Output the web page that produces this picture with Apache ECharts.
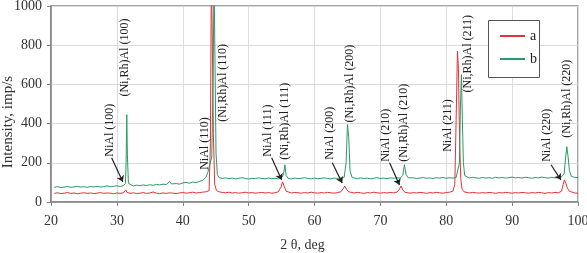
<!DOCTYPE html>
<html>
<head>
<meta charset="utf-8">
<script src="https://cdn.jsdelivr.net/npm/echarts@6/dist/echarts.min.js"></script>
<style>
  html, body { margin: 0; padding: 0; background: #fff; }
  #chart { width: 587px; height: 253px; }
</style>
</head>
<body>
<div id="chart"></div>
<script>
// pattern a (red) : [2 theta, intensity]
const seriesA = [
  [20.5,44],[21,47],[21.5,43],[22,45],[22.5,48],[23,44],[23.5,46],[24,42],[24.5,45],[25,47],
  [25.5,44],[26,46],[26.5,43],[27,45],[27.5,48],[28,44],[28.5,46],[29,45],[29.5,42],[30,46],
  [30.5,44],[31,47],[31.2,52],[31.35,62],[31.5,50],[31.7,46],[32,44],[32.5,47],[33,43],[33.5,45],
  [34,48],[34.5,44],[35,46],[35.5,51],[36,45],[36.5,43],[37,46],[37.5,44],[38,47],[38.5,45],
  [39,43],[39.5,46],[40,49],[40.5,45],[41,47],[41.5,50],[42,46],[42.5,48],[43,50],[43.5,52],
  [44,58],[44.2,300],[44.35,1200],[44.5,1200],[44.65,350],[44.85,90],[45.1,60],[45.5,52],[46,49],[46.5,47],
  [47,50],[47.5,46],[48,48],[48.5,45],[49,47],[49.5,50],[50,46],[50.5,48],[51,45],[51.5,47],
  [52,49],[52.5,46],[53,48],[53.5,45],[54,47],[54.5,52],[54.9,75],[55.15,103],[55.4,80],[55.7,55],
  [56,48],[56.5,46],[57,49],[57.5,47],[58,45],[58.5,48],[59,46],[59.5,50],[60,47],[60.5,45],
  [61,48],[61.5,46],[62,49],[62.5,47],[63,45],[63.5,48],[64,52],[64.4,70],[64.6,82],[64.85,65],
  [65.2,52],[65.5,48],[66,46],[66.5,49],[67,47],[67.5,44],[68,48],[68.5,46],[69,50],[69.5,47],
  [70,45],[70.5,48],[71,46],[71.5,49],[72,47],[72.5,50],[72.9,65],[73.15,82],[73.4,62],[73.7,50],
  [74,47],[74.5,45],[75,48],[75.5,46],[76,49],[76.5,47],[77,44],[77.5,48],[78,46],[78.5,49],
  [79,47],[79.5,45],[80,48],[80.5,50],[81,55],[81.3,90],[81.5,420],[81.7,770],[81.85,680],[82,350],
  [82.2,120],[82.4,65],[82.7,52],[83,48],[83.5,46],[84,49],[84.5,47],[85,45],[85.5,48],[86,46],
  [86.5,49],[87,47],[87.5,44],[88,48],[88.5,46],[89,49],[89.5,47],[90,45],[90.5,48],[91,46],
  [91.5,49],[92,47],[92.5,45],[93,48],[93.5,46],[94,49],[94.5,47],[95,44],[95.5,48],[96,46],
  [96.5,49],[97,47],[97.5,55],[97.75,90],[97.95,113],[98.15,95],[98.4,70],[98.7,55],[99,50],[99.5,46],
  [100,45]
]

// pattern b (green)
const seriesB = [
  [20.5,75],[21,78],[21.5,74],[22,76],[22.5,79],[23,75],[23.5,77],[24,80],[24.5,76],[25,78],
  [25.5,75],[26,79],[26.5,77],[27,80],[27.5,76],[28,79],[28.5,82],[29,78],[29.5,80],[30,83],
  [30.5,79],[31,84],[31.3,95],[31.4,200],[31.5,446],[31.6,240],[31.75,95],[32,85],[32.5,82],[33,86],
  [33.5,83],[34,87],[34.5,84],[35,88],[35.5,85],[36,90],[36.5,87],[37,91],[37.5,89],[38,104],
  [38.3,92],[38.5,90],[39,94],[39.5,91],[40,97],[40.5,100],[41,96],[41.5,102],[42,99],[42.5,105],
  [43,110],[43.5,125],[43.8,150],[44.1,140],[44.4,230],[44.6,600],[44.75,1150],[44.9,700],[45.05,250],[45.25,140],
  [45.5,125],[46,120],[46.5,123],[47,119],[47.5,122],[48,118],[48.5,121],[49,124],[49.5,120],[50,117],
  [50.5,121],[51,119],[51.5,123],[52,120],[52.5,118],[53,122],[53.5,119],[54,121],[54.5,118],[55,123],
  [55.3,140],[55.5,190],[55.7,135],[56,120],[56.5,118],[57,122],[57.5,119],[58,121],[58.5,124],[59,120],
  [59.5,118],[60,122],[60.5,119],[61,121],[61.5,123],[62,120],[62.5,118],[63,122],[63.5,120],[64,123],
  [64.5,125],[64.8,200],[65,395],[65.2,330],[65.4,160],[65.7,125],[66,121],[66.5,119],[67,123],[67.5,120],
  [68,122],[68.5,118],[69,121],[69.5,124],[70,120],[70.5,122],[71,119],[71.5,123],[72,121],[72.5,124],
  [73,122],[73.4,135],[73.65,190],[73.9,140],[74.2,124],[74.5,121],[75,123],[75.5,120],[76,122],[76.5,125],
  [77,121],[77.5,123],[78,120],[78.5,124],[79,122],[79.5,125],[80,121],[80.5,124],[81,122],[81.5,125],
  [81.8,135],[82,200],[82.15,480],[82.3,650],[82.45,420],[82.6,200],[82.8,135],[83.1,125],[83.5,122],[84,126],
  [84.5,123],[85,121],[85.5,125],[86,122],[86.5,124],[87,121],[87.5,126],[88,123],[88.5,125],[89,122],
  [89.5,124],[90,127],[90.5,123],[91,125],[91.5,122],[92,126],[92.5,124],[93,121],[93.5,125],[94,123],
  [94.5,127],[95,124],[95.5,122],[96,126],[96.5,123],[97,125],[97.5,128],[97.9,145],[98.1,220],[98.3,282],
  [98.5,230],[98.7,160],[99,130],[99.5,126],[100,125]
]

// peak labels: text, 2 theta, intensity where the text starts
const peakLabels = [
  ['NiAl (100)', 28.9, 231],
  ['(Ni,Rh)Al (100)', 31.2, 538],
  ['NiAl (110)', 43.3, 164],
  ['(Ni,Rh)Al (110)', 46.1, 410],
  ['NiAl (111)', 52.9, 231],
  ['(Ni,Rh)Al (111)', 55.5, 215],
  ['NiAl (200)', 62.3, 215],
  ['(Ni,Rh)Al (200)', 65.3, 405],
  ['NiAl (210)', 70.9, 205],
  ['(Ni,Rh)Al (210)', 73.6, 205],
  ['NiAl (211)', 80.2, 256],
  ['(Ni,Rh)Al (211)', 83.3, 559],
  ['NiAl (220)', 95.3, 205],
  ['(Ni,Rh)Al (220)', 98.3, 328]
]

// arrows from NiAl labels to the peaks: [x1, y1, x2, y2]
const arrows = [
  [29.2, 226, 30.9, 103],
  [53.5, 226, 55.0, 113],
  [62.7, 200, 64.2, 97],
  [71.4, 200, 72.9, 87],
  [95.9, 190, 97.4, 113]
]

const xTicks = { min: 20, max: 100, interval: 10 }
const yTicks = { min: 0, max: 1000, interval: 200 }

const serif = '"Liberation Serif", "DejaVu Serif", serif'
const red = '#e2323a', green = '#2a9a66'

var chart = echarts.init(document.getElementById('chart'))
var options = {
  animation: false,
  textStyle: { fontFamily: serif },
  grid: { left: 51, right: 9, top: 6, bottom: 51, show: true, borderColor: '#858585', borderWidth: 1.5, containLabel: false, outerBoundsMode: 'none' },
  legend: {
    orient: 'vertical', left: 500, top: 29, z: 10,
    padding: 0, itemGap: 9,
    itemWidth: 25, itemHeight: 2, icon: 'rect',
    textStyle: { fontFamily: serif, fontSize: 14, color: '#222' },
    data: ['a', 'b']
  },
  xAxis: {
    type: 'value', min: xTicks.min, max: xTicks.max, interval: xTicks.interval,
    name: '2 θ, deg', nameLocation: 'middle', nameGap: 36, nameMoveOverlap: false,
    nameTextStyle: { fontFamily: serif, fontSize: 14, color: '#333', padding: [0, 24, 0, 0] },
    axisLine: { show: true, lineStyle: { color: '#858585', width: 1.5 } },
    axisTick: { show: true, length: 4, lineStyle: { color: '#858585' } },
    axisLabel: { fontFamily: serif, fontSize: 14, color: '#333', margin: 12 },
    splitLine: { show: true, lineStyle: { color: '#dcdcdc' } }
  },
  yAxis: {
    type: 'value', min: yTicks.min, max: yTicks.max, interval: yTicks.interval,
    name: 'Intensity, imp/s', nameLocation: 'middle', nameGap: 35, nameMoveOverlap: false,
    nameTextStyle: { fontFamily: serif, fontSize: 15, color: '#333', padding: [0, 36, 0, 0] },
    axisLine: { show: true, lineStyle: { color: '#858585', width: 1.5 } },
    axisTick: { show: true, length: 4, lineStyle: { color: '#858585' } },
    axisLabel: { fontFamily: serif, fontSize: 14, color: '#333', margin: 9, formatter: v => String(v) },
    splitLine: { show: true, lineStyle: { color: '#dcdcdc' } }
  },
  series: [
    {
      name: 'a', type: 'line', data: seriesA, showSymbol: false, symbol: 'none',
      lineStyle: { color: red, width: 1 }, itemStyle: { color: red },
      markLine: {
        silent: true, symbol: ['none', 'arrow'], symbolSize: 6,
        lineStyle: { color: '#222', width: 1.2, type: 'solid' },
        label: { show: false },
        data: arrows.map(a => [{ coord: [a[0], a[1]] }, { coord: [a[2], a[3]] }])
      }
    },
    {
      name: 'b', type: 'line', data: seriesB, showSymbol: false, symbol: 'none',
      lineStyle: { color: green, width: 1 }, itemStyle: { color: green }
    }
  ]
}
chart.setOption(options)

// legend frame and rotated peak labels placed through the axes
var graphics = [{
  type: 'rect', shape: { x: 488.5, y: 20.5, width: 51, height: 57 }, z: 3,
  style: { fill: '#fff', stroke: '#555', lineWidth: 1 }
}]
peakLabels.forEach(p => {
  var pt = chart.convertToPixel({ gridIndex: 0 }, [p[1], p[2]])
  graphics.push({
    type: 'text', x: pt[0], y: pt[1], rotation: Math.PI / 2, z: 100,
    style: { text: p[0], font: '12px ' + serif, fill: '#222', align: 'left', verticalAlign: 'middle' }
  })
})
chart.setOption({ graphic: graphics })
</script>
</body>
</html>
